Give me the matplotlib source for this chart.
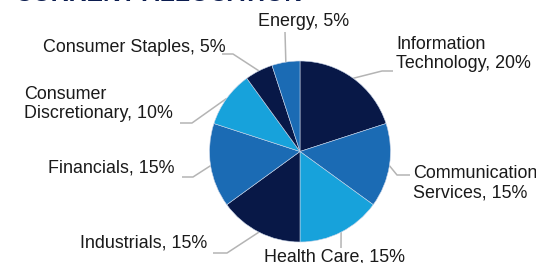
"""Current allocation pie chart."""

import numpy as np
import matplotlib
matplotlib.use("Agg")
import matplotlib.pyplot as plt

W, H = 536, 263

sectors = ["Information Technology", "Communication Services", "Health Care",
           "Industrials", "Financials", "Consumer Discretionary",
           "Consumer Staples", "Energy"]
weights = [20, 15, 15, 15, 15, 10, 5, 5]
label_text = ["Information\nTechnology, 20%", "Communication\nServices, 15%",
              "Health Care, 15%", "Industrials, 15%", "Financials, 15%",
              "Consumer\nDiscretionary, 10%", "Consumer Staples, 5%",
              "Energy, 5%"]

NAVY = "#081847"
MID = "#1b6bb4"
LIGHT = "#17a2db"
colors = [NAVY, MID, LIGHT, NAVY, MID, LIGHT, NAVY, MID]

# label layout in pixels (top-left origin): text x, text y, ha, leader points
layout = [
    (396, 54, "left", [(382, 71), (393, 71)]),
    (413, 183, "left", [(397, 175), (410, 175)]),
    (264, 257, "left", [(341, 248)]),
    (207, 243, "right", [(227, 253), (213, 253)]),
    (175, 168, "right", [(193, 177), (182, 177)]),
    (24, 104, "left", [(192, 123), (180, 123)]),
    (43, 48, "left", [(233, 54), (222, 54)]),
    (304, 21, "center", [(285, 32)]),
]

plt.rcParams["font.family"] = ["Liberation Sans", "DejaVu Sans"]

fig = plt.figure(figsize=(W / 100, H / 100), dpi=100)
ax = fig.add_axes([0, 0, 1, 1])

cx, cy, r = 300, H - 151.5, 90.5
wedges, _ = ax.pie(weights, colors=colors, startangle=90, counterclock=False,
                   center=(cx, cy), radius=r, frame=True,
                   wedgeprops=dict(linewidth=0.4, edgecolor="#c8d4e8"))
ax.set_xlim(0, W)
ax.set_ylim(0, H)
ax.axis("off")

for w, txt, (tx, ty, ha, pts) in zip(wedges, label_text, layout):
    mid = np.deg2rad((w.theta1 + w.theta2) / 2)
    xs = [cx + r * np.cos(mid)] + [p[0] for p in pts]
    ys = [cy + r * np.sin(mid)] + [H - p[1] for p in pts]
    ax.plot(xs, ys, color="#b4b4b4", lw=1.1, zorder=0, solid_capstyle="butt")
    ax.text(tx, H - ty, txt, ha=ha, va="center", fontsize=12.9,
            color="#1a1a1a", linespacing=1.2)

fig.text(15 / W, 1 - 1 / H, "CURRENT ALLOCATION", ha="left", va="baseline",
         fontsize=17.8, fontweight="bold", color="#0b1c4f")

plt.savefig("out.png", dpi=100)
plt.close()
